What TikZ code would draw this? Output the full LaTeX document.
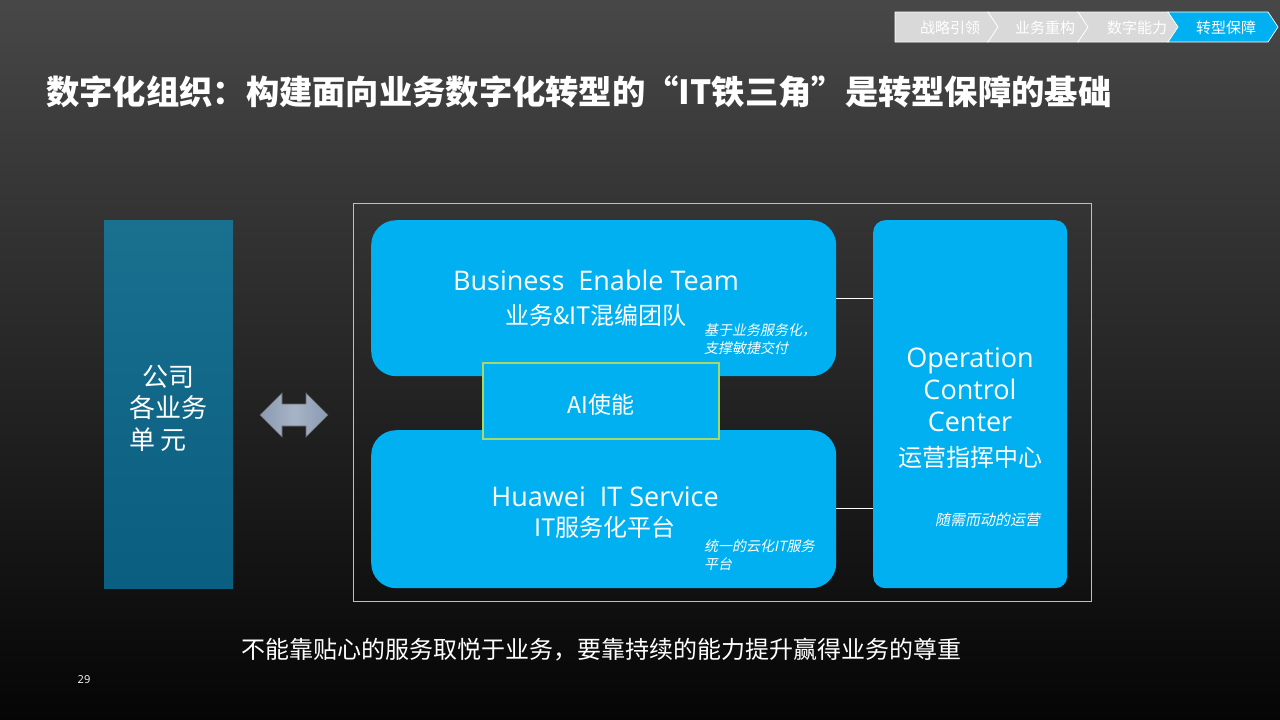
\documentclass[tikz,border=0pt]{standalone}
\usepackage{fontspec}
\setmainfont{Open Sans}
\newfontfamily\cjk{Noto Sans CJK SC}
\newfontfamily\cjkit{Noto Sans CJK SC}[FakeSlant=0.2]
\usetikzlibrary{positioning}
\definecolor{skyblue}{HTML}{00B0F0}
\definecolor{crumbgray}{HTML}{D9D9D9}
\definecolor{unittop}{HTML}{19708F}
\definecolor{unitbot}{HTML}{0A5E80}
\definecolor{aiedge}{HTML}{A6D86A}
\definecolor{arrowgray}{HTML}{8A9AB2}
\definecolor{arrowlight}{HTML}{A8B4C6}
\tikzset{
  bluebox/.style={fill=skyblue, draw=none, rounded corners=25pt, anchor=north west, inner sep=0pt},
  crumbtext/.style={text=white, font=\cjk\fontsize{15}{15}\selectfont, inner sep=0pt},
  headtext/.style={text=white, font=\fontsize{27}{30}\selectfont, inner sep=0pt},
  cntext/.style={text=white, font=\cjk\fontsize{24}{26}\selectfont, inner sep=0pt},
  notetext/.style={text=white, font=\cjkit\fontsize{14}{18}\selectfont, inner sep=0pt, align=left, anchor=west},
  link/.style={draw=white, line width=0.8pt}
}
\begin{document}
\begin{tikzpicture}[x=1pt,y=-1pt]
		%%%%% BACKGROUND %%%%%
		\shade[top color=black!72, bottom color=black!98] (0,0) rectangle (1280,720);
		\useasboundingbox (0,0) rectangle (1280,720);
		
		%%%%% BREADCRUMB %%%%%
		\draw[fill=crumbgray, draw=white, line width=0.7pt] (895,12) -- (988,12) -- (998,27) -- (988,42) -- (895,42) -- cycle;
		\draw[fill=crumbgray, draw=white, line width=0.7pt] (988,12) -- (1078,12) -- (1088,27) -- (1078,42) -- (988,42) -- (998,27) -- cycle;
		\draw[fill=crumbgray, draw=white, line width=0.7pt] (1078,12) -- (1168,12) -- (1178,27) -- (1168,42) -- (1078,42) -- (1088,27) -- cycle;
		\draw[fill=skyblue, draw=white, line width=0.7pt] (1168,12) -- (1268,12) -- (1278,27) -- (1268,42) -- (1168,42) -- (1178,27) -- cycle;
		\node[crumbtext] (c1) at (950,28) {战略引领};
		\node[crumbtext] (c2) at (1045,28) {业务重构};
		\node[crumbtext] (c3) at (1137,28) {数字能力};
		\node[crumbtext] (c4) at (1226,28) {转型保障};
		
		%%%%% TITLE %%%%%
		\node[text=white, anchor=west, inner sep=0pt, font=\cjk\bfseries\fontsize{33.3}{35}\selectfont] (title) at (46,92) {数字化组织：构建面向业务数字化转型的“IT铁三角”是转型保障的基础};
		
		%%%%% LEFT UNIT %%%%%
		\shade[top color=unittop, bottom color=unitbot] (104,220) rectangle (233,588);
		\node[text=white, align=left, inner sep=0pt, font=\cjk\fontsize{26}{31.5}\selectfont] (unit) at (168,408) {\hspace{0.5em}公司\\各业务\\单 元};
		
		%%%%% DOUBLE ARROW %%%%%
		\shade[left color=arrowgray, right color=arrowgray, middle color=arrowlight, draw=black!60, line width=0.6pt]
		  (260,415) -- (282,393) -- (282,404) -- (306,404) -- (306,393) -- (328,415) -- (306,437) -- (306,426) -- (282,426) -- (282,437) -- cycle;
		\coordinate (arr) at (294,415);
		
		%%%%% FRAME %%%%%
		\draw[black!25, line width=0.8pt] (353,203) rectangle (1091,601);
		
		%%%%% BOXES %%%%%
		\node[bluebox, minimum width=465pt, minimum height=156pt] (bet) at (371,220) {};
		\node[bluebox, minimum width=465pt, minimum height=158pt] (his) at (371,430) {};
		\node[bluebox, rounded corners=12pt, minimum width=194pt, minimum height=368pt] (occ) at (873,220) {};
		\node[fill=skyblue, draw=aiedge, line width=1.5pt, minimum width=236pt, minimum height=76pt, inner sep=0pt] (ai) at (601,401) {};
		
		%%%%% LINKS %%%%%
		\draw[link] (bet.east |- 0,298) -- (occ.west |- 0,298);
		\draw[link] (his.east |- 0,508) -- (occ.west |- 0,508);
		
		%%%%% TEXTS %%%%%
		\node[headtext] (bett) at (596,280) {Business\ \ Enable Team};
		\node[cntext] (betc) at (596,315) {业务\&IT混编团队};
		\node[notetext] (betn) at (704,339) {基于业务服务化，\\支撑敏捷交付};
		
		\node[cntext, font=\cjk\fontsize{23}{24}\selectfont] (ait) at (601,405) {AI使能};
		
		\node[headtext] (hist) at (605,497) {Huawei\ \ IT Service};
		\node[cntext] (hisc) at (605,527) {IT服务化平台};
		\node[notetext] (hisn) at (704,555) {统一的云化IT服务\\平台};
		
		\node[headtext, align=center, font=\fontsize{27}{32}\selectfont] (occt) at (970,390) {Operation\\Control\\Center};
		\node[cntext] (occc) at (970,457) {运营指挥中心};
		\node[notetext, font=\cjkit\fontsize{15}{18}\selectfont] (occn) at (935,520) {随需而动的运营};
		
		%%%%% FOOTER %%%%%
		\node[cntext, font=\cjk\fontsize{24}{26}\selectfont] (foot) at (601,650) {不能靠贴心的服务取悦于业务，要靠持续的能力提升赢得业务的尊重};
		\node[text=white, inner sep=0pt, font=\fontsize{11}{11}\selectfont] (page) at (84,680) {29};
		%%%%% END %%%%%
	\end{tikzpicture}
\end{document}
